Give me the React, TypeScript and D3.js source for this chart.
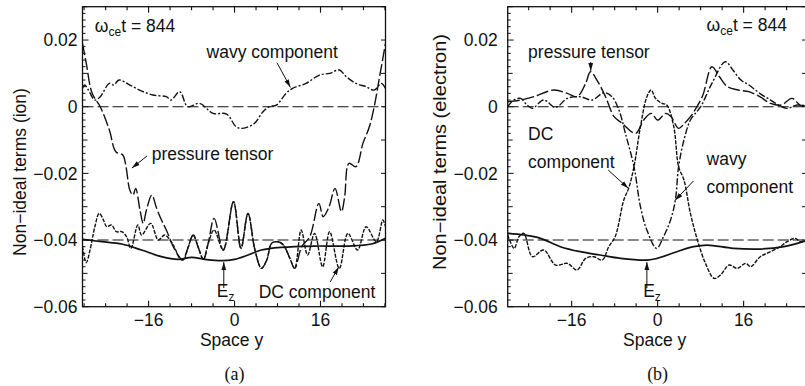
import * as d3 from "d3";
import { useRef, useEffect } from "react";

type Pt = [number, number];

// ---- panel (a): ion non-ideal terms, [space y, value] ----
const ionEz: Pt[] = [
  [-28.3, -0.0398], [-24.7, -0.0405], [-21, -0.0412], [-17.3, -0.043], [-13.6, -0.045],
  [-10.5, -0.0458], [-8, -0.0452], [-5.5, -0.0458], [-2.4, -0.0462], [0, -0.0458],
  [2.5, -0.0445], [5, -0.043], [8.7, -0.0422], [14.9, -0.0418], [21.2, -0.0418],
  [25.5, -0.0412], [28.1, -0.0395],
];
const ionWavy: Pt[] = [
  [-28.3, 0.0055], [-27.9, 0.0065], [-27.2, 0.005], [-26, 0.002], [-25, 0.003], [-23.3, 0.007],
  [-22.5, 0.0065], [-21.5, 0.008], [-19.8, 0.0068], [-17.7, 0.005], [-15.2, 0.0035],
  [-12.7, 0.003], [-11.8, 0.002], [-10.2, 0.0045], [-8.7, 0], [-6.5, 0.001], [-4, -0.002],
  [-1.5, -0.0022], [0.3, -0.006], [1.5, -0.0065], [3.7, -0.005], [5.3, -0.0015], [6.5, 0],
  [7.8, 0.0005], [9.6, 0.004], [10.8, 0.0055], [13.3, 0.007], [15.8, 0.0095], [17.7, 0.01],
  [19.5, 0.011], [20.8, 0.009], [22.6, 0.007], [24.5, 0.006], [26, 0.005], [27.3, 0.007],
  [28.1, 0.0055],
];
const ionPressure: Pt[] = [
  [-28.3, 0.019], [-27.6, 0.013], [-26.5, 0.004], [-25, 0], [-23.3, -0.007], [-22.1, -0.0135],
  [-20.8, -0.0145], [-20.2, -0.018], [-19.5, -0.025], [-18.9, -0.0265], [-18.4, -0.0245],
  [-17.6, -0.031], [-17, -0.035], [-16.4, -0.031], [-15.4, -0.0265], [-14.5, -0.0305],
  [-13.6, -0.034], [-12.7, -0.037], [-11.4, -0.042], [-10.5, -0.0445], [-9.7, -0.046],
  [-8.6, -0.042], [-7.7, -0.0385], [-6.8, -0.042], [-5.8, -0.0458], [-4.9, -0.041],
  [-3.8, -0.0335], [-2.1, -0.043], [-0.2, -0.0285], [1.2, -0.0425], [2.5, -0.032],
  [3.8, -0.043], [5, -0.0485], [6, -0.046], [6.9, -0.041], [8.1, -0.0405], [9.1, -0.0415],
  [10.3, -0.0455], [11.2, -0.0485], [12.5, -0.042], [14, -0.039], [15.7, -0.029],
  [16.5, -0.033], [17.6, -0.03], [18.7, -0.0245], [19.9, -0.0315], [20.5, -0.027],
  [21.3, -0.017], [22.6, -0.018], [23.9, -0.011], [25.1, -0.006], [26, 0], [27, 0.009],
  [28.1, 0.019],
];
const ionDC: Pt[] = [
  [-28.3, -0.042], [-27.6, -0.0468], [-26.9, -0.043], [-26, -0.036], [-25.2, -0.032],
  [-24.4, -0.034], [-23.8, -0.036], [-22.9, -0.0355], [-22, -0.0375], [-21, -0.0375],
  [-20.1, -0.039], [-19.3, -0.0425], [-18, -0.0355], [-17.3, -0.0385], [-15.6, -0.035],
  [-14.2, -0.04], [-13, -0.0385], [-11.4, -0.0415], [-10.2, -0.0455], [-9.5, -0.046],
  [-8.6, -0.042], [-7.7, -0.0385], [-6.8, -0.042], [-5.8, -0.0458], [-4.9, -0.041],
  [-3.8, -0.037], [-2.1, -0.043], [-0.2, -0.0285], [1.2, -0.0425], [2.5, -0.032],
  [3.8, -0.043], [5, -0.0485], [6, -0.046], [6.9, -0.041], [8.1, -0.0405], [9.1, -0.0415],
  [10.3, -0.0455], [11.2, -0.0485], [12.4, -0.037], [13.6, -0.0445], [14.9, -0.038],
  [16.4, -0.048], [17.7, -0.0375], [19.5, -0.0485], [21.1, -0.038], [22.9, -0.043],
  [24.5, -0.036], [26.4, -0.0405], [27.6, -0.034], [28.1, -0.036],
];

// ---- panel (b): electron non-ideal terms ----
const eEz: Pt[] = [
  [-27.9, -0.038], [-24.9, -0.0385], [-21.8, -0.0395], [-18.1, -0.042], [-14.4, -0.0435],
  [-10.7, -0.0445], [-6.9, -0.0455], [-1.9, -0.046], [-0.1, -0.0455], [3.6, -0.0435],
  [6.7, -0.042], [9.2, -0.0415], [14.1, -0.0425], [19.1, -0.0427], [23.5, -0.042],
  [26, -0.041], [28.5, -0.0398],
];
const eDC: Pt[] = [
  [-27.9, -0.0385], [-26.7, -0.0425], [-25.8, -0.039], [-24.9, -0.038], [-23.3, -0.045],
  [-21.2, -0.043], [-19, -0.0475], [-16.8, -0.047], [-15, -0.049], [-13.4, -0.0455],
  [-11.9, -0.045], [-10.3, -0.046], [-9.1, -0.042], [-7.9, -0.039], [-6.3, -0.028],
  [-5.4, -0.0245], [-4.4, -0.018], [-3.2, -0.006], [-2, 0.003], [-1.2, 0.005],
  [-0.4, 0.0025], [0.8, 0.001], [1.7, 0.0005], [3, -0.006], [3.9, -0.018], [4.9, -0.022],
  [6.1, -0.032], [7.4, -0.04], [8.9, -0.047], [10.5, -0.0515], [11.7, -0.0505],
  [13.3, -0.0475], [14.8, -0.0485], [16.4, -0.047], [17.3, -0.048], [19.1, -0.045],
  [21, -0.0435], [22.8, -0.042], [24.1, -0.0405], [25.6, -0.0395], [26.6, -0.0405],
  [28.5, -0.0395],
];
const eWavy: Pt[] = [
  [-27.9, 0], [-26.8, 0.002], [-25.5, 0.0025], [-24.3, 0.0005], [-23.3, -0.0005],
  [-21.2, 0.002], [-19, -0.0002], [-16.8, 0.0025], [-14.4, 0.003], [-12.2, 0.002],
  [-10, 0.0042], [-8.5, 0.003], [-7.2, -0.001], [-6, -0.008], [-4.4, -0.018], [-3.2, -0.03],
  [-2, -0.037], [-0.2, -0.0425], [1.1, -0.039], [2.4, -0.034], [3.3, -0.028], [3.9, -0.018],
  [4.9, -0.01], [6.1, -0.004], [8, 0], [10.1, 0.007], [12.6, 0.0135], [14, 0.011],
  [15.5, 0.008], [17, 0.0065], [19, 0.004], [21, 0.002], [22.5, 0.0005], [24, -0.0005],
  [26, 0.0005], [28.5, 0],
];
const ePressure: Pt[] = [
  [-27.9, 0.0015], [-25.5, 0.002], [-23, 0.003], [-19.3, 0.005], [-16.8, 0.004],
  [-15, 0.003], [-13.4, 0.007], [-12.5, 0.0105], [-11.3, 0.008], [-9.7, 0.003],
  [-8.1, -0.003], [-6.6, -0.005], [-4.1, -0.008], [-2.6, -0.004], [-1.2, -0.002],
  [0, -0.004], [1.5, -0.002], [2.5, -0.003], [3.9, -0.0065], [5, -0.005], [6.1, -0.003],
  [8.3, 0.003], [10.1, 0.012], [11.5, 0.009], [13, 0.006], [15, 0.005], [17, 0.0045],
  [19, 0.003], [21, 0.001], [23, 0.0005], [25, 0.0025], [26.5, 0.0005], [28.5, 0],
];

const yTickLabels = [0.02, 0, -0.02, -0.04, -0.06];
const xTickLabels = [-16, 0, 16];
const refLines = [0, -0.04];

const FONT = "'Liberation Sans', Arial, Helvetica, sans-serif";

export default function App() {
  const svgRef = useRef<SVGSVGElement>(null);

  useEffect(() => {
    const svg = d3.select(svgRef.current);
    svg.selectAll("*").remove();

    const top = 6.7, bottom = 306.7;
    const defs = svg.append("defs");
    defs.append("marker").attr("id", "arr").attr("viewBox", "0 0 8 6")
      .attr("refX", 8).attr("refY", 3).attr("markerWidth", 8).attr("markerHeight", 6)
      .attr("markerUnits", "userSpaceOnUse").attr("orient", "auto")
      .append("path").attr("d", "M0,0.6 L8,3 L0,5.4 Z").attr("fill", "#111");

    const panels = [
      {
        id: "a", left: 82.5, right: 385.5, domain: [-28.3, 28.1], caption: "(a)",
        ylabel: "Non\u2212ideal terms (ion)", ylabelX: 26, ylabelY: 172, ylabelLen: 0, tickGap: 5,
        ez: ionEz, pressure: ionPressure, wavy: ionWavy, dc: ionDC,
        omega: [-26, 0.0225],
        notes: [
          { lines: ["wavy component"], at: [-5.2, 0.0145], tail: [7.9, 0.0132], tip: [10.4, 0.0058] },
          { lines: ["pressure tensor"], at: [-15.4, -0.016], tail: [-16.3, -0.0148], tip: [-19.1, -0.0184] },
          { lines: ["DC component"], at: [4.5, -0.0574], tail: [17.8, -0.0526], tip: [19.4, -0.0481] },
        ],
        ezArrow: [-2.0, -3.3],
      },
      {
        id: "b", left: 507.7, right: 806.5, domain: [-27.9, 27.7], caption: "(b)",
        ylabel: "Non\u2212ideal terms (electron)", ylabelX: 446, ylabelY: 152, ylabelLen: 236, tickGap: 10,
        ez: eEz, pressure: ePressure, wavy: eWavy, dc: eDC,
        omega: [9.1, 0.0227],
        notes: [
          { lines: ["pressure tensor"], at: [-24.1, 0.0145], tail: [-12.45, 0.0134], tip: [-12.45, 0.0107] },
          { lines: ["DC", "component"], at: [-24.1, -0.01], tail: [-9.2, -0.019], tip: [-5.45, -0.0245] },
          { lines: ["wavy", "component"], at: [9.1, -0.0175], tail: [6.65, -0.0223], tip: [3.25, -0.0281] },
        ],
        ezArrow: [-2.0, -2.7],
      },
    ];

    panels.forEach((p) => {
      const x = d3.scaleLinear().domain(p.domain).range([p.left, p.right]);
      const y = d3.scaleLinear().domain([-0.06, 0.03]).range([bottom, top]);
      const g = svg.append("g").attr("font-family", FONT).attr("fill", "#111");

      defs.append("clipPath").attr("id", "clip-" + p.id).append("rect")
        .attr("x", p.left).attr("y", top).attr("width", p.right - p.left).attr("height", bottom - top);
      const plot = g.append("g").attr("clip-path", `url(#clip-${p.id})`);

      // reference dashed lines
      refLines.forEach((v) => {
        plot.append("line").attr("x1", p.left).attr("x2", p.right).attr("y1", y(v)).attr("y2", y(v))
          .attr("stroke", "#111").attr("stroke-width", 1.1).attr("stroke-dasharray", "11 4");
      });

      const line = d3.line<Pt>().x((d) => x(d[0])).y((d) => y(d[1])).curve(d3.curveCatmullRom.alpha(0.5));
      const series = [
        { data: p.ez, dash: null, w: 1.7 },
        { data: p.dc, dash: "4 1.3", w: 1.4 },
        { data: p.wavy, dash: "7 2 2 2", w: 1.4 },
        { data: p.pressure, dash: "12 3", w: 1.4 },
      ];
      series.forEach((s) => {
        plot.append("path").attr("d", line(s.data)).attr("fill", "none").attr("stroke", "#111")
          .attr("stroke-width", s.w).attr("stroke-dasharray", s.dash);
      });

      // frame
      g.append("rect").attr("x", p.left).attr("y", top).attr("width", p.right - p.left)
        .attr("height", bottom - top).attr("fill", "none").attr("stroke", "#111").attr("stroke-width", 1.3);

      // x ticks every 4, top and bottom
      for (let k = -7; k <= 7; k++) {
        const v = k * 4;
        if (v < p.domain[0] || v > p.domain[1]) continue;
        const len = v % 16 === 0 ? 6 : 3.5;
        g.append("line").attr("x1", x(v)).attr("x2", x(v)).attr("y1", bottom).attr("y2", bottom - len)
          .attr("stroke", "#111").attr("stroke-width", 1.1);
        g.append("line").attr("x1", x(v)).attr("x2", x(v)).attr("y1", top).attr("y2", top + len)
          .attr("stroke", "#111").attr("stroke-width", 1.1);
      }
      // y ticks: minor every 0.002 on left, every 0.01 on right
      for (let k = -30; k <= 15; k++) {
        const v = k * 0.002;
        const len = k % 10 === 0 ? 6 : k % 5 === 0 ? 5 : 3;
        g.append("line").attr("x1", p.left).attr("x2", p.left + len).attr("y1", y(v)).attr("y2", y(v))
          .attr("stroke", "#111").attr("stroke-width", 1);
        if (k % 5 === 0) {
          g.append("line").attr("x1", p.right).attr("x2", p.right - 4.5).attr("y1", y(v)).attr("y2", y(v))
            .attr("stroke", "#111").attr("stroke-width", 1);
        }
      }

      // tick labels
      yTickLabels.forEach((v) => {
        g.append("text").attr("x", p.left - p.tickGap).attr("y", y(v)).attr("dy", "0.36em")
          .attr("text-anchor", "end").attr("font-size", 17.5)
          .text(v === 0 ? "0" : d3.format(".2f")(v).replace("-", "\u2212"));
      });
      xTickLabels.forEach((v) => {
        g.append("text").attr("x", x(v)).attr("y", 326).attr("text-anchor", "middle").attr("font-size", 17.5)
          .text(String(v).replace("-", "\u2212"));
      });

      // axis titles
      g.append("text").attr("x", x(0) - 3).attr("y", 345.5).attr("text-anchor", "middle")
        .attr("font-size", 17.5).text("Space y");
      const yl = g.append("text").attr("transform", `translate(${p.ylabelX},${p.ylabelY}) rotate(-90)`)
        .attr("text-anchor", "middle").attr("font-size", 17.5).text(p.ylabel);
      if (p.ylabelLen) yl.attr("textLength", p.ylabelLen).attr("lengthAdjust", "spacingAndGlyphs");
      g.append("text").attr("x", x(0)).attr("y", 380).attr("text-anchor", "middle")
        .attr("font-family", "'Liberation Serif', 'Times New Roman', serif").attr("font-size", 18)
        .text(p.caption);

      // time stamp
      const om = g.append("text").attr("x", x(p.omega[0])).attr("y", y(p.omega[1])).attr("font-size", 17.5);
      om.append("tspan").text("\u03c9");
      om.append("tspan").attr("font-size", 12).attr("dy", 4).text("ce");
      om.append("tspan").attr("dy", -4).text("t = 844");

      // annotations
      p.notes.forEach((n) => {
        n.lines.forEach((t, i) => {
          g.append("text").attr("x", x(n.at[0])).attr("y", y(n.at[1]) + i * 28).attr("font-size", 17.5).text(t);
        });
        g.append("line").attr("x1", x(n.tail[0])).attr("y1", y(n.tail[1]))
          .attr("x2", x(n.tip[0])).attr("y2", y(n.tip[1]))
          .attr("stroke", "#111").attr("stroke-width", 1).attr("marker-end", "url(#arr)");
      });

      // E_z arrow and label
      g.append("line").attr("x1", x(p.ezArrow[0])).attr("y1", y(-0.0544))
        .attr("x2", x(p.ezArrow[0])).attr("y2", y(-0.0466))
        .attr("stroke", "#111").attr("stroke-width", 1).attr("marker-end", "url(#arr)");
      const ez = g.append("text").attr("x", x(p.ezArrow[1])).attr("y", y(-0.0571)).attr("font-size", 17.5);
      ez.append("tspan").text("E");
      ez.append("tspan").attr("font-size", 12).attr("dy", 4).text("z");
    });
  }, []);

  return (
    <svg ref={svgRef} width={805} height={386}
      style={{ position: "absolute", left: 0, top: 0, background: "#fff" }} />
  );
}
